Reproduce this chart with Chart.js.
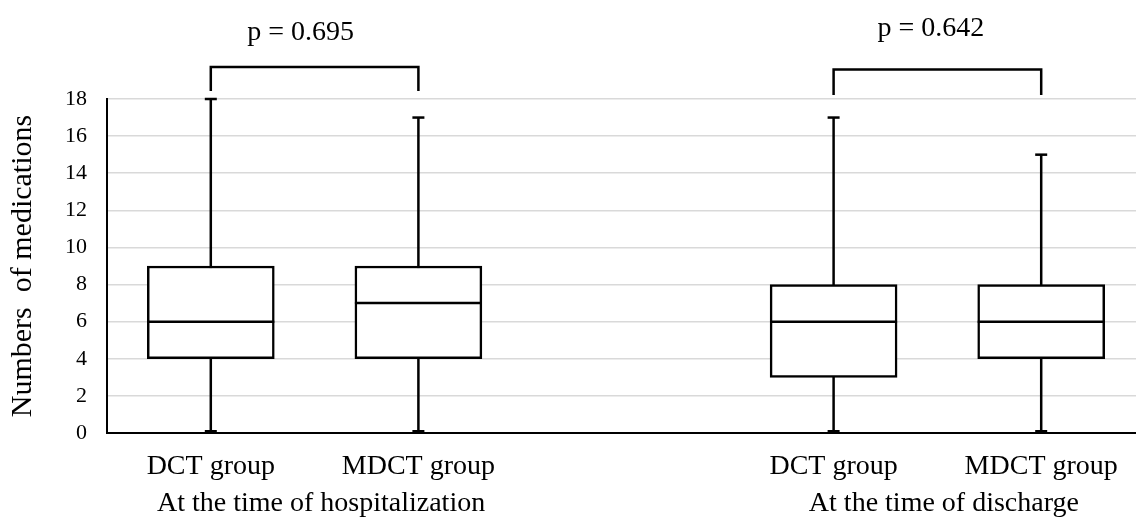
<!DOCTYPE html>
<html>
<head>
<meta charset="utf-8">
<title>Numbers of medications</title>
<script src="https://cdn.jsdelivr.net/npm/chart.js@4.4.1/dist/chart.umd.min.js"></script>
<style>
  html, body { margin: 0; padding: 0; background: #fff; overflow: hidden; }
  #wrap { width: 1136px; height: 520px; overflow: hidden; }
</style>
</head>
<body>
<div id="wrap"><canvas id="chart" width="1146" height="520"></canvas></div>
<script>
// ---- data ----
const categories = ["DCT group", "MDCT group", "", "DCT group", "MDCT group"];
const groupLabels = ["At the time of hospitalization", "At the time of discharge"];
const groupPairs = [[0, 1], [3, 4]];
const pLabels = ["p = 0.695", "p = 0.642"];

const minValues    = [0, 0, null, 0, 0];
const q1Values     = [4, 4, null, 3, 4];
const medianValues = [6, 7, null, 6, 6];
const q3Values     = [9, 9, null, 8, 8];
const maxValues    = [18, 17, null, 17, 15];

const yTicks = [0, 2, 4, 6, 8, 10, 12, 14, 16, 18];

// ---- look ----
const FONT = '"Liberation Serif", "Times New Roman", serif';
const INK = "#000";
const GRID = "#d9d9d9";
const LW = 2.5;
const CAP = 12;
const bracketTop = [67, 69.5];
const bracketLeg = [91, 95];
const pBase = [40, 36];
const pNudge = [-14, -6.5];
const groupBase = 511;
const groupNudge = 6.5;

// whiskers under the boxes, medians on top
const boxPlot = {
  id: "boxPlot",
  beforeDatasetsDraw(chart) {
    const { ctx, scales: { y } } = chart;
    const meta = chart.getDatasetMeta(0);
    ctx.save();
    ctx.strokeStyle = INK;
    ctx.fillStyle = INK;
    ctx.lineWidth = LW;
    meta.data.forEach((bar, i) => {
      if (maxValues[i] == null) return;
      const top = y.getPixelForValue(maxValues[i]);
      const bot = y.getPixelForValue(minValues[i]);
      ctx.beginPath();
      ctx.moveTo(bar.x, top);
      ctx.lineTo(bar.x, bot);
      ctx.stroke();
      ctx.fillRect(bar.x - CAP / 2, top - LW / 2, CAP, LW);
      ctx.fillRect(bar.x - CAP / 2, bot - LW - 0.5, CAP, LW);
    });
    ctx.restore();
  },
  afterDatasetsDraw(chart) {
    const { ctx, scales: { y } } = chart;
    const meta = chart.getDatasetMeta(0);
    ctx.save();
    ctx.strokeStyle = INK;
    ctx.lineWidth = LW;
    meta.data.forEach((bar, i) => {
      if (medianValues[i] == null) return;
      const my = y.getPixelForValue(medianValues[i]);
      ctx.beginPath();
      ctx.moveTo(bar.x - bar.width / 2, my);
      ctx.lineTo(bar.x + bar.width / 2, my);
      ctx.stroke();
    });
    ctx.restore();
  }
};

// significance brackets, p values and the group captions
const brackets = {
  id: "brackets",
  afterDraw(chart) {
    const { ctx, scales: { x } } = chart;
    ctx.save();
    ctx.strokeStyle = INK;
    ctx.fillStyle = INK;
    ctx.lineWidth = LW;
    ctx.lineJoin = "miter";
    ctx.font = "28px " + FONT;
    ctx.textAlign = "center";
    ctx.textBaseline = "alphabetic";
    groupPairs.forEach(([a, b], k) => {
      const xa = x.getPixelForValue(a);
      const xb = x.getPixelForValue(b);
      ctx.beginPath();
      ctx.moveTo(xa, bracketLeg[k]);
      ctx.lineTo(xa, bracketTop[k]);
      ctx.lineTo(xb, bracketTop[k]);
      ctx.lineTo(xb, bracketLeg[k]);
      ctx.stroke();
      ctx.fillText(pLabels[k], (xa + xb) / 2 + pNudge[k], pBase[k]);
      ctx.fillText(groupLabels[k], (xa + xb) / 2 + groupNudge, groupBase);
    });
    ctx.restore();
  }
};

new Chart(document.getElementById("chart"), {
  type: "bar",
  data: {
    labels: categories,
    datasets: [{
      data: categories.map((_, i) => q1Values[i] == null ? null : [q1Values[i], q3Values[i]]),
      backgroundColor: "#fff",
      borderColor: INK,
      borderWidth: LW,
      borderSkipped: false,
      barThickness: 127
    }]
  },
  options: {
    responsive: false,
    animation: false,
    layout: { padding: { top: 99, right: 1, bottom: 20.2, left: 0 } },
    plugins: {
      legend: { display: false },
      tooltip: { enabled: false }
    },
    scales: {
      x: {
        grid: { display: false, drawTicks: false },
        border: { display: true, color: INK, width: 2 },
        ticks: {
          color: INK,
          font: { family: FONT, size: 28 },
          padding: 16.6,
          autoSkip: false,
          maxRotation: 0
        }
      },
      y: {
        min: 0,
        max: 18,
        afterBuildTicks: (axis) => {
          axis.ticks = yTicks.map(v => ({ value: v }));
        },
        grid: { color: GRID, lineWidth: 1.5, drawTicks: false },
        border: { display: true, color: INK, width: 2 },
        ticks: {
          color: INK,
          font: { family: FONT, size: 22 },
          padding: 20
        },
        title: {
          display: true,
          text: "Numbers  of medications",
          color: INK,
          font: { family: FONT, size: 30 },
          padding: { top: 5, bottom: 4 }
        }
      }
    }
  },
  plugins: [boxPlot, brackets]
});
</script>
</body>
</html>
